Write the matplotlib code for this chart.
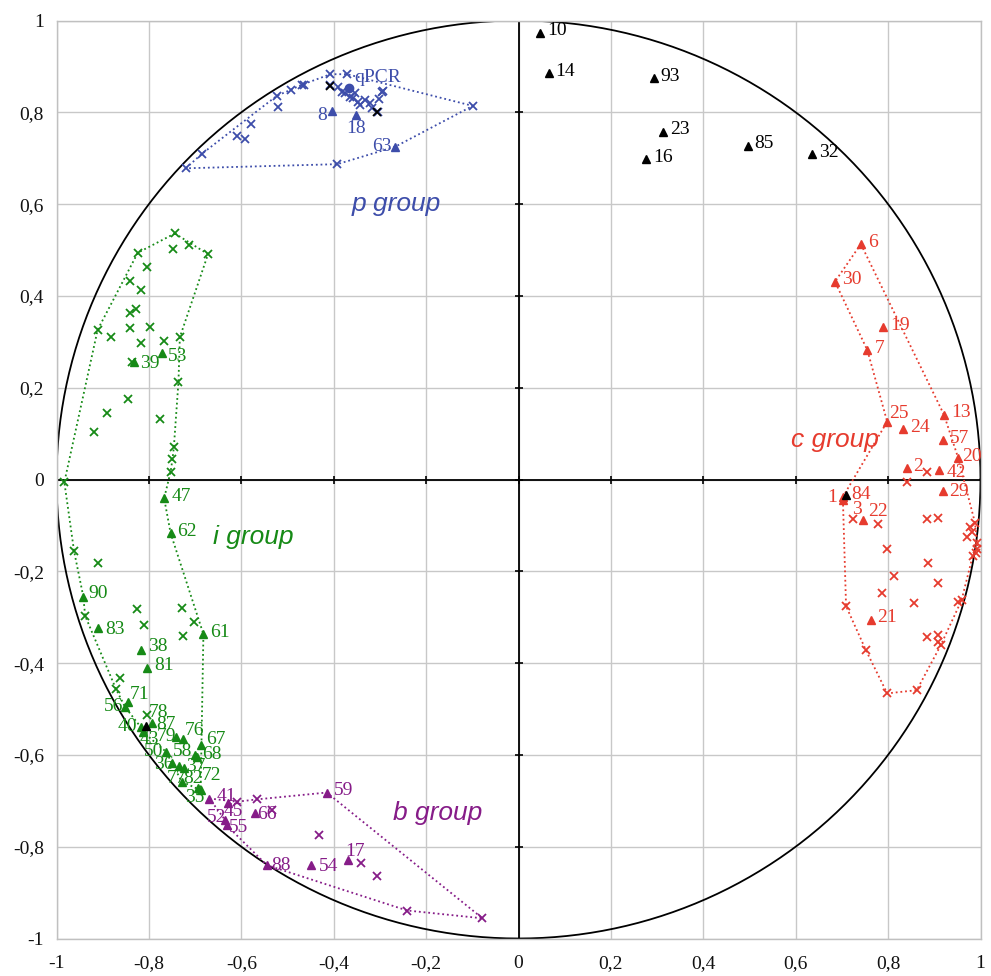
import numpy as np
import matplotlib
matplotlib.use("Agg")
import matplotlib.pyplot as plt

# ---------------- data ----------------
# black (ungrouped) labelled points
blk_tri_x = [0.047, 0.065, 0.293, 0.313, 0.276, 0.496, 0.635, 0.708, -0.806]
blk_tri_y = [0.973, 0.885, 0.874, 0.758, 0.698, 0.727, 0.709, -0.034, -0.537]
blk_tri_lab = ['10', '14', '93', '23', '16', '85', '32', '84', '78']
blk_x_x = [-0.407, -0.306]
blk_x_y = [0.857, 0.801]

# p group
p_tri_x = [-0.404, -0.352, -0.267]
p_tri_y = [0.803, 0.794, 0.725]
p_tri_lab = ['8', '18', '63']
p_x_x = [-0.720, -0.686, -0.609, -0.591, -0.578, -0.523, -0.520, -0.493, -0.469, -0.464,
         -0.407, -0.371, -0.408, -0.390, -0.383, -0.376, -0.365, -0.354, -0.358, -0.347,
         -0.343, -0.332, -0.321, -0.318, -0.301, -0.296, -0.293, -0.099, -0.392, -0.304]
p_x_y = [0.678, 0.709, 0.748, 0.741, 0.775, 0.836, 0.812, 0.849, 0.860, 0.860,
         0.883, 0.883, 0.860, 0.856, 0.845, 0.841, 0.834, 0.841, 0.831, 0.823,
         0.816, 0.827, 0.820, 0.809, 0.828, 0.845, 0.847, 0.814, 0.687, 0.801]
p_hull = [('x', 0), ('x', 1), ('x', 5), ('x', 7), ('x', 8), ('x', 10), ('x', 11),
          ('x', 27), ('t', 2), ('x', 28)]
qpcr_x = [-0.366]
qpcr_y = [0.854]

# c group
c_tri_x = [0.741, 0.685, 0.790, 0.755, 0.798, 0.833, 0.921, 0.918, 0.952, 0.840,
           0.911, 0.918, 0.702, 0.703, 0.745, 0.762]
c_tri_y = [0.513, 0.431, 0.332, 0.282, 0.126, 0.109, 0.141, 0.086, 0.046, 0.024,
           0.021, -0.026, -0.038, -0.045, -0.088, -0.306]
c_tri_lab = ['6', '30', '19', '7', '25', '24', '13', '57', '20', '2',
             '42', '29', '1', '3', '22', '21']
c_x_x = [0.884, 0.840, 0.725, 0.779, 0.884, 0.909, 0.798, 0.887, 0.813, 0.907,
         0.786, 0.857, 0.709, 0.752, 0.884, 0.909, 0.907, 0.914, 0.798, 0.862,
         0.952, 0.959, 0.977, 0.988, 0.981, 0.971, 0.993, 0.992, 0.983, 0.990]
c_x_y = [0.017, -0.006, -0.087, -0.098, -0.087, -0.083, -0.152, -0.183, -0.210, -0.226,
         -0.248, -0.268, -0.276, -0.372, -0.343, -0.339, -0.353, -0.361, -0.466, -0.459,
         -0.266, -0.263, -0.103, -0.094, -0.114, -0.125, -0.138, -0.152, -0.167, -0.161]
c_hull = [('t', 0), ('t', 6), ('t', 8), ('x', 23), ('x', 26), ('x', 27), ('x', 28),
          ('x', 21), ('x', 17), ('x', 19), ('x', 18), ('x', 13), ('x', 12),
          ('t', 12), ('t', 4), ('t', 3), ('t', 1)]

# i group
i_tri_x = [-0.772, -0.832, -0.767, -0.753, -0.942, -0.911, -0.682, -0.817, -0.804, -0.845,
           -0.852, -0.818, -0.794, -0.813, -0.741, -0.726, -0.688, -0.763, -0.700, -0.696,
           -0.751, -0.734, -0.724, -0.729, -0.693, -0.688]
i_tri_y = [0.275, 0.257, -0.041, -0.117, -0.255, -0.324, -0.337, -0.372, -0.410, -0.484,
           -0.495, -0.539, -0.531, -0.550, -0.562, -0.566, -0.578, -0.593, -0.600, -0.605,
           -0.617, -0.624, -0.629, -0.658, -0.673, -0.677]
i_tri_lab = ['53', '39', '47', '62', '90', '83', '61', '38', '81', '71',
             '56', '40', '87', '43', '79', '76', '67', '50', '58', '68',
             '36', '37', '82', '77', '72', '35']
i_x_x = [-0.744, -0.824, -0.747, -0.713, -0.672, -0.804, -0.841, -0.817, -0.841, -0.828,
         -0.911, -0.881, -0.841, -0.798, -0.817, -0.767, -0.733, -0.837, -0.736, -0.845,
         -0.891, -0.776, -0.919, -0.746, -0.749, -0.753, -0.983, -0.962, -0.911, -0.938,
         -0.826, -0.810, -0.729, -0.702, -0.727, -0.863, -0.871, -0.805]
i_x_y = [0.536, 0.494, 0.502, 0.510, 0.491, 0.464, 0.433, 0.413, 0.362, 0.371,
         0.326, 0.310, 0.329, 0.333, 0.298, 0.302, 0.310, 0.257, 0.213, 0.175,
         0.144, 0.132, 0.103, 0.070, 0.044, 0.017, -0.006, -0.156, -0.183, -0.297,
         -0.282, -0.317, -0.279, -0.310, -0.340, -0.433, -0.457, -0.513]
i_hull = [('x', 0), ('x', 4), ('x', 16), ('x', 18), ('x', 23), ('x', 24), ('x', 25),
          ('t', 2), ('t', 3), ('t', 6), ('t', 25), ('t', 23), ('t', 17), ('t', 13),
          ('t', 11), ('t', 10), ('x', 36), ('x', 29), ('t', 4), ('x', 27), ('x', 26),
          ('x', 10), ('x', 1)]

# b group
b_tri_x = [-0.669, -0.628, -0.570, -0.635, -0.632, -0.415, -0.545, -0.449, -0.368]
b_tri_y = [-0.695, -0.705, -0.726, -0.742, -0.753, -0.682, -0.840, -0.840, -0.828]
b_tri_lab = ['41', '45', '66', '52', '55', '59', '88', '54', '17']
b_x_x = [-0.609, -0.567, -0.534, -0.432, -0.341, -0.307, -0.241, -0.078]
b_x_y = [-0.702, -0.697, -0.720, -0.775, -0.836, -0.864, -0.939, -0.956]
b_hull = [('t', 0), ('x', 0), ('x', 1), ('t', 5), ('x', 7), ('x', 6), ('t', 6),
          ('t', 4), ('t', 3)]

group_names = ['p group', 'i group', 'c group', 'b group']
group_name_x = [-0.265, -0.574, 0.685, -0.175]
group_name_y = [0.600, -0.125, 0.086, -0.727]

tick_vals = [-1, -0.8, -0.6, -0.4, -0.2, 0, 0.2, 0.4, 0.6, 0.8, 1]
tick_labels = ['-1', '-0,8', '-0,6', '-0,4', '-0,2', '0', '0,2', '0,4', '0,6', '0,8', '1']

# ---------------- style ----------------
BLUE = '#3D4DAA'
RED = '#E63B2E'
GREEN = '#168A16'
PURPLE = '#861C88'
SERIF = ['Liberation Serif', 'DejaVu Serif']
LABEL_FS = 14
DEFAULT_OFF = (7, 2, 'left')

label_off = {
    'qPCR': (5, 10, 'left'), '8': (-5, -5, 'right'), '18': (0, -13, 'center'),
    '63': (-4, 0, 'right'),
    '25': (2, 8, 'left'), '20': (4, 2, 'left'), '42': (7, -3, 'left'), '29': (7, 0, 'left'),
    '1': (-6, -1, 'right'), '3': (14, -9, 'center'), '22': (5, 8, 'left'), '84': (6, 1, 'left'),
    '39': (6, -2, 'left'), '53': (6, -3, 'left'), '90': (5, 3, 'left'), '83': (8, -1, 'left'),
    '38': (7, 4, 'left'), '71': (2, 7, 'left'), '56': (-2, 0, 'right'), '40': (-3, 0, 'right'),
    '87': (5, -1, 'left'), '43': (-3, -8, 'left'), '79': (0, 1, 'right'), '76': (2, 9, 'left'),
    '67': (5, 5, 'left'), '50': (-3, 0, 'right'), '58': (-3, 3, 'right'), '68': (5, 3, 'left'),
    '36': (-17, -2, 'left'), '37': (7, -1, 'left'), '82': (-1, -10, 'left'),
    '77': (-15, 3, 'left'), '72': (3, 13, 'left'), '35': (-16, -7, 'left'), '78': (3, 13, 'left'),
    '45': (-5, -8, 'left'), '52': (-18, 3, 'left'), '55': (2, -2, 'left'), '66': (2, -2, 'left'),
    '88': (5, 0, 'left'), '54': (8, -1, 'left'), '17': (-3, 8, 'left'),
}

fig = plt.figure(figsize=(9.91, 9.76), dpi=100)
ax = fig.add_axes([56.5 / 991, (976 - 938.5) / 976, 924 / 991, 918 / 976])
ax.set_xlim(-1, 1)
ax.set_ylim(-1, 1)

# grid and frame
for v in tick_vals:
    ax.axvline(v, color='#C8C8C8', lw=1.0, zorder=0)
    ax.axhline(v, color='#C8C8C8', lw=1.0, zorder=0)
for s in ax.spines.values():
    s.set_color('#C0C0C0')
    s.set_linewidth(1.0)

ax.set_xticks(tick_vals)
ax.set_xticklabels(tick_labels)
ax.set_yticks(tick_vals)
ax.set_yticklabels(tick_labels)
ax.tick_params(length=0, labelsize=14)
ax.tick_params(axis='x', pad=12)
ax.tick_params(axis='y', pad=9)
for lab in ax.get_xticklabels() + ax.get_yticklabels():
    lab.set_family(SERIF)
    lab.set_color('#111111')

# central axes with tick marks
ax.axhline(0, color='black', lw=1.3, zorder=1)
ax.axvline(0, color='black', lw=1.3, zorder=1)
tv = np.array(tick_vals)
ax.plot(tv, np.zeros_like(tv), ls='none', marker='|', ms=6, mew=1.2, color='black', zorder=1)
ax.plot(np.zeros_like(tv), tv, ls='none', marker='_', ms=6, mew=1.2, color='black', zorder=1)

# unit circle
th = np.linspace(0, 2 * np.pi, 721)
ax.plot(np.cos(th), np.sin(th), color='black', lw=1.3, zorder=2)


def draw_group(tx, ty, tl, xx, xy, hull, color):
    tx, ty, xx, xy = map(np.asarray, (tx, ty, xx, xy))
    hx = [tx[i] if k == 't' else xx[i] for k, i in hull]
    hy = [ty[i] if k == 't' else xy[i] for k, i in hull]
    hx.append(hx[0])
    hy.append(hy[0])
    ax.plot(hx, hy, ls=(0, (1, 1.6)), lw=1.3, color=color, zorder=3)
    ax.plot(xx, xy, ls='none', marker='x', ms=6, mew=1.3, color=color, zorder=4)
    ax.plot(tx, ty, ls='none', marker='^', ms=6, color=color, zorder=5)
    for x, y, l in zip(tx, ty, tl):
        dx, dy, ha = label_off.get(l, DEFAULT_OFF)
        ax.annotate(l, (x, y), xytext=(dx, dy), textcoords='offset pixels',
                    ha=ha, va='center', fontsize=LABEL_FS, family=SERIF,
                    color=color, zorder=6)


draw_group(p_tri_x, p_tri_y, p_tri_lab, p_x_x, p_x_y, p_hull, BLUE)
draw_group(c_tri_x, c_tri_y, c_tri_lab, c_x_x, c_x_y, c_hull, RED)
draw_group(i_tri_x, i_tri_y, i_tri_lab, i_x_x, i_x_y, i_hull, GREEN)
draw_group(b_tri_x, b_tri_y, b_tri_lab, b_x_x, b_x_y, b_hull, PURPLE)

# qPCR point
ax.plot(qpcr_x, qpcr_y, ls='none', marker='o', ms=6, color=BLUE, zorder=5)
dx, dy, ha = label_off['qPCR']
ax.annotate('qPCR', (qpcr_x[0], qpcr_y[0]), xytext=(dx, dy), textcoords='offset pixels',
            ha=ha, va='center', fontsize=LABEL_FS, family=SERIF, color=BLUE, zorder=6)

# black points
ax.plot(blk_x_x, blk_x_y, ls='none', marker='x', ms=6, mew=1.3, color='black', zorder=7)
ax.plot(blk_tri_x, blk_tri_y, ls='none', marker='^', ms=6, color='black', zorder=7)
for x, y, l in zip(blk_tri_x, blk_tri_y, blk_tri_lab):
    dx, dy, ha = label_off.get(l, DEFAULT_OFF)
    col = 'black'
    if l == '84':
        col = RED
    elif l == '78':
        col = GREEN
    ax.annotate(l, (x, y), xytext=(dx, dy), textcoords='offset pixels',
                ha=ha, va='center', fontsize=LABEL_FS, family=SERIF, color=col, zorder=8)

# group names
for name, x, y, col in zip(group_names, group_name_x, group_name_y, [BLUE, GREEN, RED, PURPLE]):
    ax.text(x, y, name, ha='center', va='center', fontsize=19, style='italic',
            family=['Liberation Sans', 'DejaVu Sans'], color=col, zorder=8)

fig.savefig('out.png', dpi=100)
